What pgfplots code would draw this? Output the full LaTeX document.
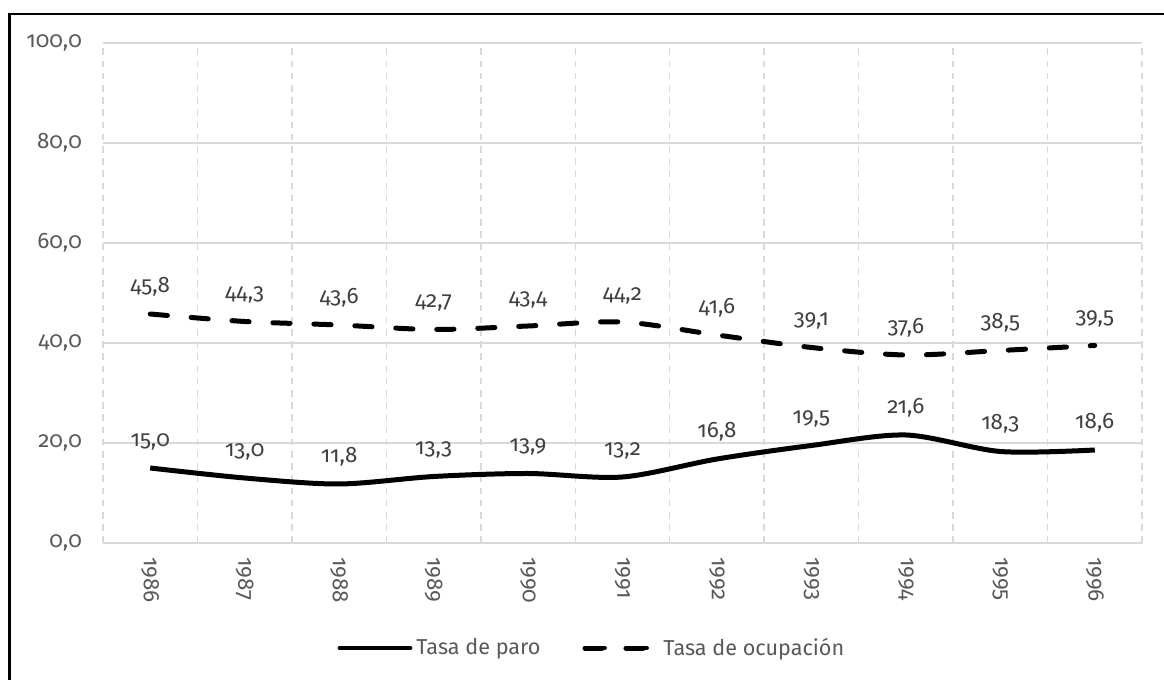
\documentclass[border=0pt]{standalone}
\usepackage{pgfplots}
\pgfplotsset{compat=1.18}
\usepackage{fontspec}
\setmainfont{Fira Sans}[Numbers=OldStyle]
\definecolor{gridc}{HTML}{D9D9D9}
\definecolor{tickc}{HTML}{595959}
\definecolor{labc}{HTML}{404040}
\pgfplotstableread{
x paro ocup
0 15.0 45.8
1 13.0 44.3
2 11.8 43.6
3 13.3 42.7
4 13.9 43.4
5 13.2 44.2
6 16.8 41.6
7 19.5 39.1
8 21.6 37.6
9 18.3 38.5
10 18.6 39.5
}\datatable
\begin{document}
\begin{tikzpicture}[x=1pt,y=1pt]
\useasboundingbox (0,0) rectangle (582,340);
\fill[white] (0,0) rectangle (582,340);
\draw[line width=1.3pt] (4.6,0) -- (4.6,333) -- (582,333);
\begin{axis}[
  at={(51.5pt,68.5pt)}, anchor=south west, scale only axis,
  width=519.5pt, height=250pt,
  xmin=-0.5, xmax=10.5, ymin=0, ymax=100,
  xtick={0,1,2,3,4,5,6,7,8,9,10},
  xticklabels={1986,1987,1988,1989,1990,1991,1992,1993,1994,1995,1996},
  ytick={0,20,40,60,80,100},
  minor xtick={-0.5,0.5,1.5,2.5,3.5,4.5,5.5,6.5,7.5,8.5,9.5,10.5},
  xminorgrids, ymajorgrids,
  minor x grid style={draw=gridc, line width=0.7pt, dash pattern=on 3.3pt off 2.8pt},
  major y grid style={draw=gridc, line width=0.8pt},
  axis line style={draw=none},
  major tick length=0pt, minor tick length=0pt,
  tick style={draw=none},
  /pgf/number format/fixed,
  /pgf/number format/fixed zerofill,
  /pgf/number format/precision=1,
  /pgf/number format/use comma,
  /pgf/number format/assume math mode=true,
  ticklabel style={font=\fontsize{11.2}{13}\selectfont, text=tickc},
  yticklabel style={xshift=-7pt},
  xticklabel style={rotate=-90, anchor=west},
  xticklabel shift=3.5pt,
  nodes near coords,
  every node near coord/.append style={font=\fontsize{11.2}{13}\selectfont, text=labc, anchor=south, yshift=4.5pt},
  legend columns=2,
  legend style={draw=none, fill=none, at={(0.4715,-0.21)}, anchor=center,
    font=\fontsize{10.8}{13}\selectfont, text=tickc,
    /tikz/every even column/.append style={column sep=19pt}},
  legend cell align=left,
]
\addplot[black, line width=2.5pt, smooth, tension=0.5,
  legend image code/.code={\draw[black, line width=2.4pt, line cap=round] (-1pt,0pt) -- (34pt,0pt);}]
  table[x=x, y=paro] {\datatable};
\addlegendentry{Tasa de paro}
\addplot[black, line width=2.5pt, smooth, tension=0.5, line cap=round, dash pattern=on 8.6pt off 11.9pt,
  legend image code/.code={
    \draw[black, line width=2.4pt, line cap=round] (1.2pt,0pt) -- (10.3pt,0pt);
    \draw[black, line width=2.4pt, line cap=round] (22.2pt,0pt) -- (30.8pt,0pt);
    \path (0pt,0pt) -- (36pt,0pt);}]
  table[x=x, y=ocup] {\datatable};
\addlegendentry{Tasa de ocupación}
\end{axis}
\end{tikzpicture}
\end{document}
